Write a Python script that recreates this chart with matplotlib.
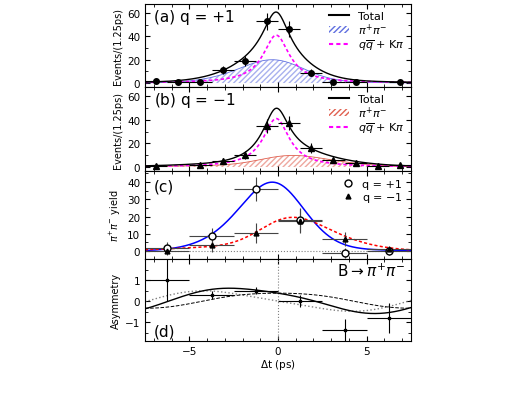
import numpy as np
import matplotlib
matplotlib.use("Agg")
import matplotlib.pyplot as plt
from matplotlib.ticker import AutoMinorLocator, MultipleLocator
from matplotlib.lines import Line2D
from matplotlib.patches import Patch

# ---- data ----
fine_t = [-6.875, -5.625, -4.375, -3.125, -1.875, -0.625, 0.625, 1.875, 3.125, 4.375, 6.875]
fine_a = [2, 1, 1, 11, 19, 53, 46, 9, 1, 1, 1]
fine_b_t = [-6.875, -4.375, -3.125, -1.875, -0.625, 0.625, 1.875, 3.125, 4.375, 5.625, 6.875]
fine_b = [1, 2, 5, 10, 35, 37, 16, 6, 3, 0.5, 2]
coarse_t = [-6.25, -3.75, -1.25, 1.25, 3.75, 6.25]
yield_p = [2, 8.5, 36, 18, -1, 0]
yield_p_err = [3, 5, 7, 7, 3, 2]
yield_m = [0, 3.5, 10.5, 17.5, 7, 1]
yield_m_err = [2, 4, 6, 7, 4, 2]
asym = [1.0, 0.3, 0.5, 0.0, -1.4, -0.8]
asym_err = [1.0, 0.2, 0.15, 0.3, 0.55, 0.7]

# fit parameters
tau, dm, sigma = 1.55, 0.5, 1.3
A_cp, S_cp = 0.42, -0.6
N_sig = 124.0
bkg_peak, bkg_width, bkg_mu = 41.0, 0.9, -0.1

t = np.linspace(-7.5, 7.5, 601)
dt = t[1] - t[0]
tk = np.arange(-12, 12 + dt / 2, dt)
g = np.exp(-0.5 * (tk / sigma) ** 2); g /= g.sum()

def conv(f):
    return np.convolve(f, g, mode="same")

def sig_shape(q, a=A_cp, s=S_cp):
    raw = np.exp(-np.abs(tk) / tau) / (4 * tau) * (1 + q * (a * np.cos(dm * tk) + s * np.sin(dm * tk)))
    return np.interp(t, tk, conv(raw))

sp = N_sig * sig_shape(+1)
sm = N_sig * sig_shape(-1)
bkg = bkg_peak / (1 + ((t - bkg_mu) / bkg_width) ** 2)
asym_full = (sp - sm) / (sp + sm)
def asym_of(a, s):
    p, m = sig_shape(1, a, s), sig_shape(-1, a, s)
    return (p - m) / (p + m)
cos_only = asym_of(A_cp, 0)
sin_only = asym_of(0, S_cp)

fig = plt.figure(figsize=(5.22, 4.02), dpi=100)
L, W = 145 / 522, 266 / 522
def ax_at(top, bot):
    return fig.add_axes([L, 1 - bot / 402, W, (bot - top) / 402])
axa = ax_at(5, 88); axb = ax_at(88, 172); axc = ax_at(172, 260); axd = ax_at(260, 342)

for ax in (axa, axb, axc, axd):
    ax.set_xlim(-7.5, 7.5)
    ax.xaxis.set_major_locator(MultipleLocator(5))
    ax.xaxis.set_minor_locator(MultipleLocator(1))
    ax.tick_params(direction="in", which="both", top=True, right=True, labelsize=7.5)
    ax.yaxis.set_minor_locator(AutoMinorLocator(2))
    if ax is not axd:
        ax.set_xticklabels([])

def fine_panel(ax, xs, ys, sig, col, label, marker):
    ax.fill_between(t, 0, sig * 1.25, facecolor="none", edgecolor=col, hatch="//////", lw=0, alpha=0.55)
    ax.plot(t, sig * 1.25, color=col, lw=0.6)
    ax.plot(t, bkg, color="magenta", ls=(0, (2, 1.5)), lw=1.2)
    ax.plot(t, bkg + sig * 1.25, color="black", lw=1)
    ax.errorbar(xs, ys, xerr=0.625, yerr=np.sqrt(np.maximum(ys, 1)), fmt=marker, color="black",
                ms=4, elinewidth=0.8, capsize=0)
    ax.set_ylim(-3.4, 67.7)
    ax.set_yticks([0, 20, 40, 60])
    ax.set_ylabel("Events/(1.25ps)", fontsize=7, labelpad=3)
    ax.text(-7.0, 53, label, fontsize=11)
    h = [Line2D([], [], color="black"), Patch(facecolor="none", edgecolor=col, hatch="//////", lw=0),
         Line2D([], [], color="magenta", ls=(0, (2, 1.5)))]
    ax.legend(h, ["Total", r"$\pi^{+}\pi^{-}$", r"$q\overline{q}$ + K$\pi$"], loc="upper right",
              frameon=False, fontsize=8, handlelength=1.8, labelspacing=0.05, borderpad=0.1)

fine_panel(axa, fine_t, np.array(fine_a, float), sp, "#6070e0", "(a) q = +1", "o")
fine_panel(axb, fine_b_t, np.array(fine_b, float), sm, "#e06050", "(b) q = $-$1", "^")

axc.axhline(0, color="gray", ls=":", lw=0.8)
axc.plot(t, sp * 2.5, color="blue", lw=1.1)
axc.plot(t, sm * 2.5, color="red", ls=(0, (2, 1.5)), lw=1.1)
axc.errorbar(coarse_t, yield_p, xerr=1.25, yerr=yield_p_err, fmt="o", mfc="white", mec="black",
             ecolor="#444444", ms=5, elinewidth=0.8)
axc.errorbar(coarse_t, yield_m, xerr=1.25, yerr=yield_m_err, fmt="^", color="black",
             ecolor="#444444", ms=3.5, elinewidth=0.8)
axc.set_ylim(-4.6, 46.4)
axc.set_yticks([0, 10, 20, 30, 40])
axc.set_ylabel(r"$\pi^{+}\pi^{-}$ yield", fontsize=7, labelpad=3)
axc.text(-7.0, 35, "(c)", fontsize=11)
h1 = Line2D([], [], ls="none", marker="o", mfc="white", mec="black", ms=5)
h2 = Line2D([], [], ls="none", marker="^", color="black", ms=3.5)
axc.legend([h1, h2], ["q = +1", "q = $-$1"], loc="upper right", frameon=False, fontsize=8,
           labelspacing=0.1, handletextpad=0.3, borderpad=0.2)

axd.axvline(0, color="gray", ls=":", lw=0.8)
axd.plot(t, sin_only, color="gray", ls=":", lw=1)
axd.plot(t, cos_only, color="black", ls="--", lw=0.7)
axd.plot(t, asym_full, color="black", lw=1)
axd.errorbar(coarse_t, asym, xerr=1.25, yerr=asym_err, fmt="s", color="black", ms=2,
             elinewidth=0.8)
axd.set_ylim(-1.9, 2.0)
axd.set_yticks([-1, 0, 1])
axd.set_ylabel("Asymmetry", fontsize=7, labelpad=3)
axd.text(-7.0, -1.65, "(d)", fontsize=11)
axd.text(7.2, 1.2, r"B$\rightarrow\pi^{+}\pi^{-}$", fontsize=11, ha="right")
axd.set_xlabel(r"$\Delta$t (ps)", fontsize=7.5, labelpad=1)

fig.savefig("out.png", dpi=100)
